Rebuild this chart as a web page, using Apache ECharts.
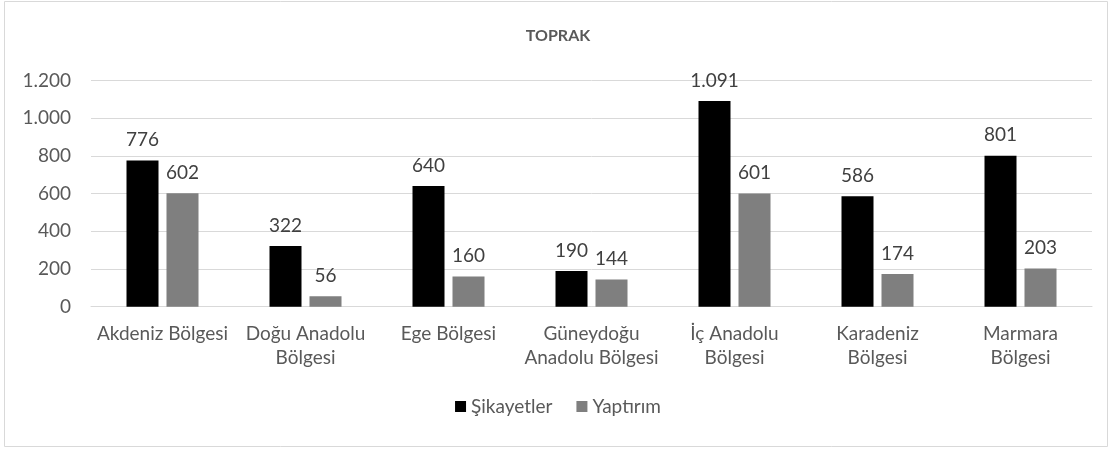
<!DOCTYPE html>
<html><head><meta charset="utf-8">
<script src="https://cdn.jsdelivr.net/npm/echarts@6/dist/echarts.min.js"></script>
<style>html,body{margin:0;padding:0;background:#fff}#c{width:1116px;height:450px}</style>
</head><body><div id="c"></div>
<script>
const categories = ["Akdeniz Bölgesi", "Doğu Anadolu\nBölgesi", "Ege Bölgesi", "Güneydoğu\nAnadolu Bölgesi", "İç Anadolu\nBölgesi", "Karadeniz\nBölgesi", "Marmara\nBölgesi"];
const sikayetler = [776, 322, 640, 190, 1091, 586, 801];
const yaptirim = [602, 56, 160, 144, 601, 174, 203];
const seriesNames = ["Şikayetler", "Yaptırım"];
const titleText = "TOPRAK";

const fmt = v => String(v).replace(/\B(?=(\d{3})+(?!\d))/g, ".");
const font = "Lato, 'Open Sans', sans-serif";
const chart = echarts.init(document.getElementById('c'));
chart.setOption({
  animation: false,
  textStyle: {fontFamily: font},
  graphic: [{type: 'rect', shape: {x: 4.5, y: 1.5, width: 1103, height: 445}, style: {fill: 'none', stroke: '#d9d9d9', lineWidth: 1}}],
  title: {text: titleText, left: 'center', top: 23, textStyle: {fontSize: 16, fontWeight: 'bold', color: '#595959', fontFamily: font}},
  legend: {data: seriesNames, bottom: 29, left: 'center', itemWidth: 11, itemHeight: 11, itemGap: 24, icon: 'rect',
    textStyle: {fontSize: 19, color: '#595959', fontFamily: font, padding: [0, 0, 0, 0]}},
  grid: {left: 91, right: 24, top: 80.5, bottom: 143.3, containLabel: false},
  xAxis: {type: 'category', data: categories,
    axisLine: {lineStyle: {color: '#d9d9d9'}}, axisTick: {show: false},
    axisLabel: {fontSize: 19, color: '#595959', lineHeight: 24, margin: 15, interval: 0, fontFamily: font}},
  yAxis: {type: 'value', min: 0, max: 1200, interval: 200,
    axisLine: {show: false}, axisTick: {show: false},
    splitLine: {lineStyle: {color: '#d9d9d9'}},
    axisLabel: {fontSize: 19, color: '#595959', margin: 20, formatter: fmt, fontFamily: font}},
  series: [
    {name: seriesNames[0], type: 'bar', data: sikayetler, barWidth: 32, barGap: '25%',
     itemStyle: {color: '#000000'},
     label: {show: true, position: 'top', distance: 11, fontSize: 19, color: '#404040', formatter: p => fmt(p.value), fontFamily: font}},
    {name: seriesNames[1], type: 'bar', data: yaptirim, barWidth: 32,
     itemStyle: {color: '#7f7f7f'},
     label: {show: true, position: 'top', distance: 11, fontSize: 19, color: '#404040', formatter: p => fmt(p.value), fontFamily: font}}
  ]
});
</script></body></html>
